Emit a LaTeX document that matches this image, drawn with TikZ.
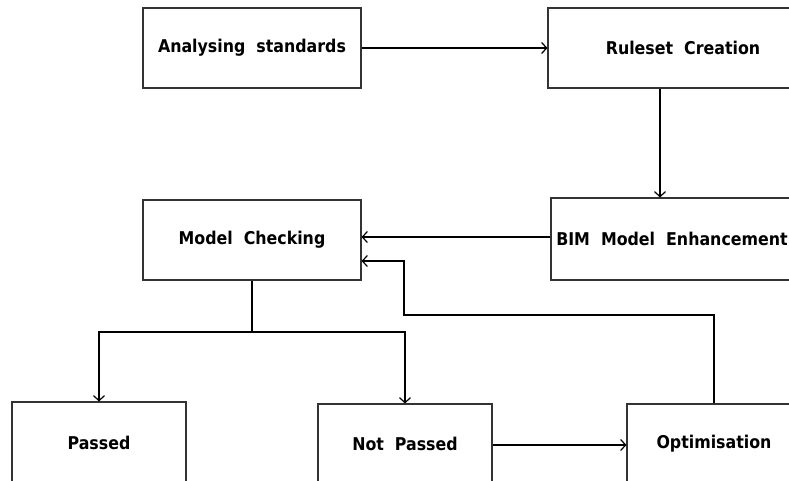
\documentclass[tikz,border=0pt]{standalone}
\usepackage{fontspec}
\setmainfont{DejaVu Sans Condensed}
\usetikzlibrary{arrows.meta}
\begin{document}
\begin{tikzpicture}[x=1pt,y=-1pt,
  box/.style={draw=black!80,line width=1.1pt,rectangle,inner sep=0pt,font=\fontsize{17.6}{20}\selectfont\bfseries},
  arr/.style={line width=1.3pt,-{Straight Barb[length=5pt,width=11pt,line width=1.2pt]}},
  ln/.style={line width=1.3pt}]
\useasboundingbox (0,0) rectangle (789,481);
\clip (0,0) rectangle (789,481);
\node[box,minimum width=218pt,minimum height=80pt] (a) at (252,48) {Analysing\ \ standards};
\node[box,minimum width=270pt,minimum height=80pt] (r) at (683,48) {Ruleset\ \ Creation};
\node[box,minimum width=218pt,minimum height=80pt] (mc) at (252,240) {Model\ \ Checking};
\node[box,minimum width=242pt,minimum height=82pt] (bim) at (672,239) {BIM\ \ Model\ \ Enhancement};
\node[box,minimum width=174pt,minimum height=82pt] (p) at (99,443) {Passed};
\node[box,minimum width=174pt,minimum height=80pt] (np) at (405,444) {Not\ \ Passed};
\node[box,minimum width=174pt,minimum height=80pt] (o) at (714,444) {Optimisation};
\coordinate (br) at (252,332);
\coordinate (fb1) at (714,315);
\coordinate (fb2) at (404,315);
\coordinate (fb3) at (404,261);
\draw[arr] (a.east) -- (r.west);
\draw[arr] ([xshift=-23pt]r.south) -- ([xshift=-23pt]r.south |- bim.north);
\draw[arr] ([yshift=2pt]bim.west) -- ([yshift=2pt]bim.west -| mc.east);
\draw[arr] (o.north) -- (fb1) -- (fb2) -- (fb3) -- (fb3 -| mc.east);
\draw[ln] (mc.south) -- (br);
\draw[arr] (br) -| (p.north);
\draw[arr] (br) -| (np.north);
\draw[arr] ([yshift=-1pt]np.east) -- ([yshift=-1pt]np.east -| o.west);
\end{tikzpicture}
\end{document}
